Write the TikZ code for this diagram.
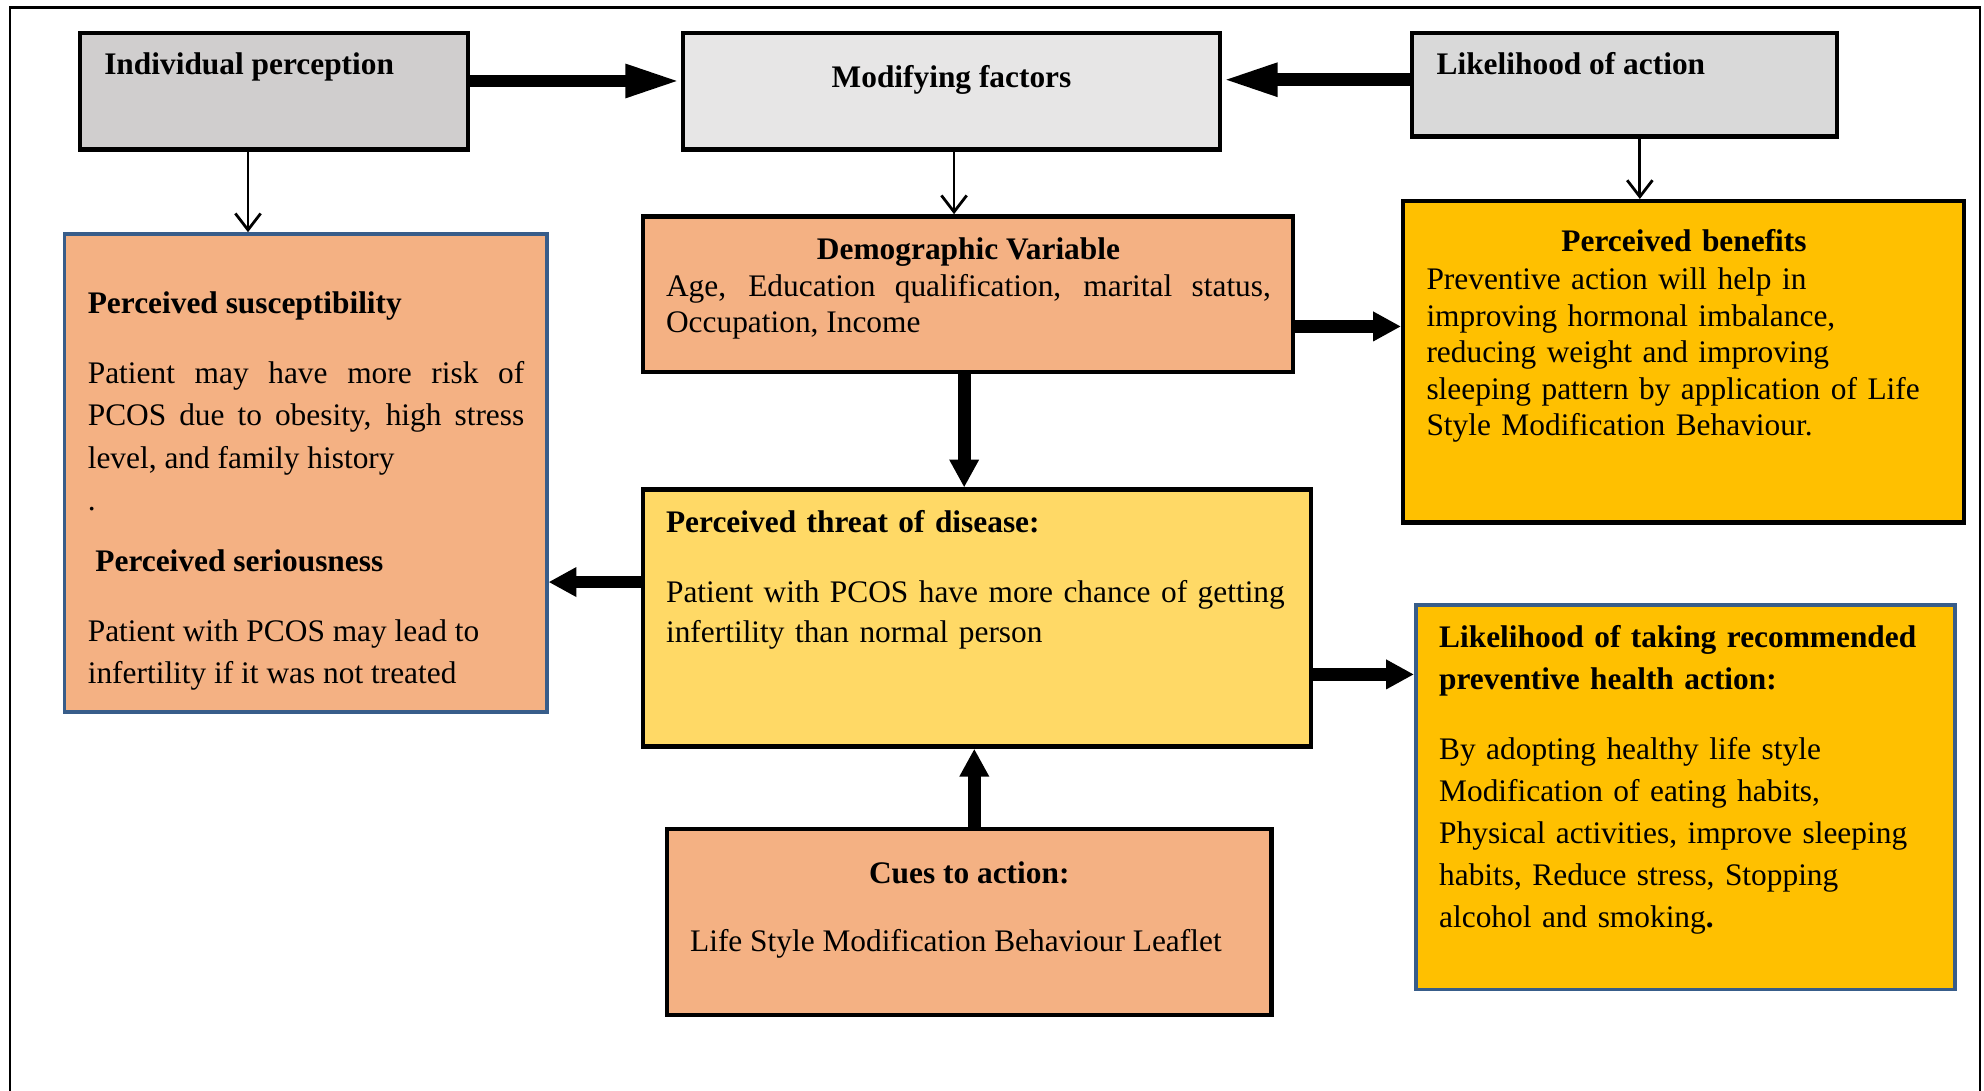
\documentclass[tikz,border=0pt]{standalone}
\usepackage{fontspec}
\setmainfont{Liberation Serif}
\usepackage{tikz}
\usetikzlibrary{arrows.meta,positioning,calc}
\definecolor{grayone}{RGB}{208,206,206}
\definecolor{graytwo}{RGB}{231,230,230}
\definecolor{graythree}{RGB}{217,217,217}
\definecolor{salmon}{RGB}{244,177,131}
\definecolor{amber}{RGB}{255,192,0}
\definecolor{paleamber}{RGB}{255,217,102}
\definecolor{bluedge}{RGB}{56,93,138}

\begin{document}
\begin{tikzpicture}[x=0.5pt, y=-0.5pt,
        box/.style={rectangle, draw=black, line width=1.75pt, inner sep=0pt},
        bluebox/.style={box, draw=bluedge, line width=1.5pt},
        txt/.style={inner sep=0pt, anchor=base west, align=left,
                    font=\fontsize{12.4}{16.75}\selectfont},
        head/.style={inner sep=0pt, anchor=base, font=\fontsize{12.4}{14.5}\selectfont\bfseries},
        bigarrow/.style={-{Triangle[length=11pt,width=11pt]}, line width=5pt},
        longarrow/.style={-{Triangle[length=22pt,width=12pt]}, line width=5pt},
        thinarrow/.style={-{Straight Barb[length=6.5pt,width=10pt]}, line width=1.1pt}]

        \useasboundingbox (0,0) rectangle (1568,862);

        % outer frame (open at the bottom)
        \draw[line width=1pt] (8,862) -- (8,6) -- (1565,6) -- (1565,862);

        % top row
        \node[box, fill=grayone, minimum width=153.5pt, minimum height=46pt]
            (indiv) at (216.5,72) {};
        \node[txt, font=\fontsize{12.4}{14.5}\selectfont\bfseries] (indiv-t) at (82,59)
            {Individual perception};

        \node[box, fill=graytwo, minimum width=212pt, minimum height=46pt]
            (modif) at (752,72) {};
        \node[head] (modif-t) at (752,69) {Modifying factors};

        \node[box, fill=graythree, minimum width=168pt, minimum height=41pt]
            (likeli) at (1284,67) {};
        \node[txt, font=\fontsize{12.4}{14.5}\selectfont\bfseries] (likeli-t) at (1135,59)
            {Likelihood of action};

        % susceptibility / seriousness
        \node[bluebox, fill=salmon, minimum width=190.5pt, minimum height=189pt]
            (susc) at (241.5,374) {};
        \node[txt, text width=172.5pt, align=justify] (susc-t) at (69,248)
            {\textbf{Perceived susceptibility}\\[10.75pt]
             Patient may have more risk of\linebreak
             PCOS due to obesity, high stress\linebreak
             level, and family history\\
             .\\[7.5pt]
             \hspace*{3pt}\textbf{Perceived seriousness}\\[10.75pt]
             Patient with PCOS may lead to\\
             infertility if it was not treated};

        % demographic variable
        \node[box, fill=salmon, minimum width=257pt, minimum height=61.5pt]
            (demo) at (765,232.5) {};
        \node[txt, text width=239pt, align=justify,
              font=\fontsize{12.4}{14.5}\selectfont] (demo-t) at (526,205)
            {\makebox[\linewidth]{\textbf{Demographic Variable}}\\
             Age, Education qualification, marital status,\linebreak
             Occupation, Income};

        % perceived benefits
        \node[box, fill=amber, minimum width=221.5pt, minimum height=127pt]
            (ben) at (1330.5,286) {};
        \node[txt, text width=203.5pt, font=\fontsize{12.4}{14.4}\selectfont]
            (ben-t) at (1127,199)
            {\makebox[\linewidth]{\textbf{Perceived benefits}}\\[0.6pt]
             Preventive action will help in\\
             improving hormonal imbalance,\\
             reducing weight and improving\\
             sleeping pattern by application of Life\\
             Style Modification Behaviour.};

        % perceived threat
        \node[box, fill=paleamber, minimum width=264pt, minimum height=101.5pt]
            (threat) at (772,488.5) {};
        \node[txt, text width=250pt, font=\fontsize{12.4}{16}\selectfont]
            (threat-t) at (526,421)
            {\textbf{Perceived threat of disease:}\\[11.5pt]
             Patient with PCOS have more chance of getting\\
             infertility than normal person};

        % likelihood of taking action
        \node[bluebox, fill=amber, minimum width=213pt, minimum height=152pt]
            (taking) at (1332,630) {};
        \node[txt, text width=200pt, font=\fontsize{12.4}{16.6}\selectfont]
            (taking-t) at (1137,512)
            {\textbf{Likelihood of taking recommended}\\
             \textbf{preventive health action:}\\[10.9pt]
             By adopting healthy life style\\
             Modification of eating habits,\\
             Physical activities, improve sleeping\\
             habits, Reduce stress, Stopping\\
             alcohol and smoking\textbf{.}};

        % cues to action
        \node[box, fill=salmon, minimum width=239pt, minimum height=73.5pt]
            (cues) at (766,728.5) {};
        \node[head] (cues-h) at (766,698) {Cues to action:};
        \node[txt] (cues-t) at (545,752) {Life Style Modification Behaviour Leaflet};

        % arrows
        \draw[longarrow] ([yshift=4pt]indiv.east) -- ([yshift=4pt]modif.west);
        \draw[longarrow] ([yshift=2pt]likeli.west) -- ([yshift=2pt]likeli.west -| modif.east);
        \draw[thinarrow] ([xshift=-10.25pt]indiv.south) -- ([xshift=-10.25pt]indiv.south |- susc.north);
        \draw[thinarrow] ([xshift=1pt]modif.south) -- ([xshift=1pt]modif.south |- demo.north);
        \draw[thinarrow] ([xshift=6pt]likeli.south) -- ([xshift=6pt]likeli.south |- ben.north);
        \draw[bigarrow] ([yshift=-12.75pt]demo.east) -- ([yshift=-12.75pt]demo.east -| ben.west);
        \draw[bigarrow] ([xshift=-1.5pt]demo.south) -- ([xshift=-1.5pt]demo.south |- threat.north);
        \draw[bigarrow] ([yshift=14.25pt]threat.west) -- ([yshift=14.25pt]threat.west -| susc.east);
        \draw[bigarrow] ([yshift=-22.25pt]threat.east) -- ([yshift=-22.25pt]threat.east -| taking.west);
        \draw[bigarrow] ([xshift=2pt]cues.north) -- ([xshift=2pt]cues.north |- threat.south);

\end{tikzpicture}
\end{document}
